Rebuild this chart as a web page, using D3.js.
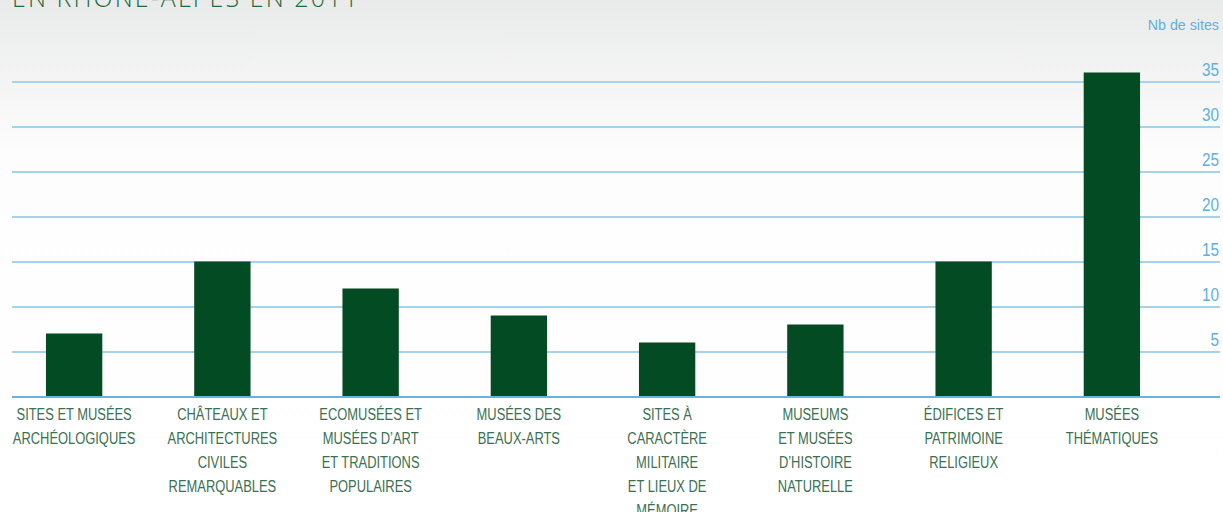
<!DOCTYPE html>
<html>
<head>
<meta charset="utf-8">
<script src="https://cdn.jsdelivr.net/npm/d3@7"></script>
<style>
  html, body { margin: 0; padding: 0; background: #fff; }
  svg { display: block; }
</style>
</head>
<body>
<figure id="bars" style="margin:0"></figure>
<script>
// chart data
const categories = [
  ["SITES ET MUSÉES", "ARCHÉOLOGIQUES"],
  ["CHÂTEAUX ET", "ARCHITECTURES", "CIVILES", "REMARQUABLES"],
  ["ECOMUSÉES ET", "MUSÉES D’ART", "ET TRADITIONS", "POPULAIRES"],
  ["MUSÉES DES", "BEAUX-ARTS"],
  ["SITES À", "CARACTÈRE", "MILITAIRE", "ET LIEUX DE", "MÉMOIRE"],
  ["MUSEUMS", "ET MUSÉES", "D’HISTOIRE", "NATURELLE"],
  ["ÉDIFICES ET", "PATRIMOINE", "RELIGIEUX"],
  ["MUSÉES", "THÉMATIQUES"]
];
const values = [7, 15, 12, 9, 6, 8, 15, 36];
const tickValues = [5, 10, 15, 20, 25, 30, 35];
const titleText = "EN RHÔNE-ALPES EN 2011";
const unitLabel = "Nb de sites";

const width = 1223;
const height = 512;
// the source uses a condensed face; squeeze a regular one horizontally
const squeeze = 0.76;

const svg = d3.select("figure#bars")
  .append("svg")
  .attr("width", width)
  .attr("height", height);

// grey-to-white background
const grad = svg.append("defs").append("linearGradient")
  .attr("id", "bg").attr("x1", 0).attr("y1", 0).attr("x2", 0).attr("y2", 1);
grad.append("stop").attr("offset", "0").attr("stop-color", "#e9ebea");
grad.append("stop").attr("offset", "0.3").attr("stop-color", "#fdfdfd");
grad.append("stop").attr("offset", "1").attr("stop-color", "#ffffff");
svg.append("rect").attr("width", width).attr("height", height).attr("fill", "url(#bg)");

const x = d3.scaleBand()
  .domain(d3.range(values.length))
  .range([0, 1186])
  .paddingInner(0.62)
  .paddingOuter(0.31);

const y = d3.scaleLinear()
  .domain([0, 35])
  .range([396.5, 81.5]);

// title (cut off at top)
svg.append("text")
  .attr("transform", "translate(12,7) scale(0.96,1)")
  .attr("fill", "#1d6b3c")
  .style("font-family", "'Open Sans', sans-serif")
  .style("font-weight", 300)
  .style("font-size", "26px")
  .style("letter-spacing", "2.2px")
  .text(titleText);

svg.append("text")
  .attr("transform", "translate(1219,30) scale(0.95,1)")
  .attr("text-anchor", "end")
  .attr("fill", "#5fb0df")
  .style("font-family", "'Liberation Sans', sans-serif")
  .style("font-size", "15px")
  .text(unitLabel);

// grid lines + right-hand labels
const yAxis = d3.axisRight(y)
  .tickValues(tickValues)
  .tickSize(1208)
  .tickFormat(d3.format("d"));

const gAxis = svg.append("g")
  .attr("transform", "translate(12,0)")
  .call(yAxis);
gAxis.select(".domain").remove();
gAxis.selectAll(".tick line")
  .attr("stroke", "#a5d3ec")
  .attr("stroke-width", 2);
gAxis.selectAll(".tick text")
  .attr("x", 0)
  .attr("dy", 0)
  .attr("transform", "translate(1207,-6) scale(0.85,1)")
  .attr("text-anchor", "end")
  .attr("fill", "#5fb0df")
  .style("font-family", "'Liberation Sans', sans-serif")
  .style("font-size", "18px");

// bars
svg.append("g")
  .selectAll("rect")
  .data(values)
  .enter()
  .append("rect")
  .attr("x", (d, i) => x(i))
  .attr("y", d => y(d))
  .attr("width", x.bandwidth())
  .attr("height", d => y(0) - y(d))
  .attr("fill", "#034b23");

// baseline
svg.append("line")
  .attr("x1", 12).attr("x2", 1220)
  .attr("y1", y(0) + 0.5).attr("y2", y(0) + 0.5)
  .attr("stroke", "#68b4e0")
  .attr("stroke-width", 2);

// category labels
const labels = svg.append("g")
  .selectAll("text")
  .data(categories)
  .enter()
  .append("text")
  .attr("transform", (d, i) => "translate(" + (x(i) + x.bandwidth() / 2) + ",0) scale(" + squeeze + ",1)")
  .attr("text-anchor", "middle")
  .attr("fill", "#3b7052")
  .style("font-family", "'Liberation Sans', sans-serif")
  .style("font-size", "17px");

labels.selectAll("tspan")
  .data(d => d)
  .enter()
  .append("tspan")
  .attr("x", 0)
  .attr("y", (d, j) => 420 + j * 24)
  .text(d => d);
</script>
</body>
</html>
